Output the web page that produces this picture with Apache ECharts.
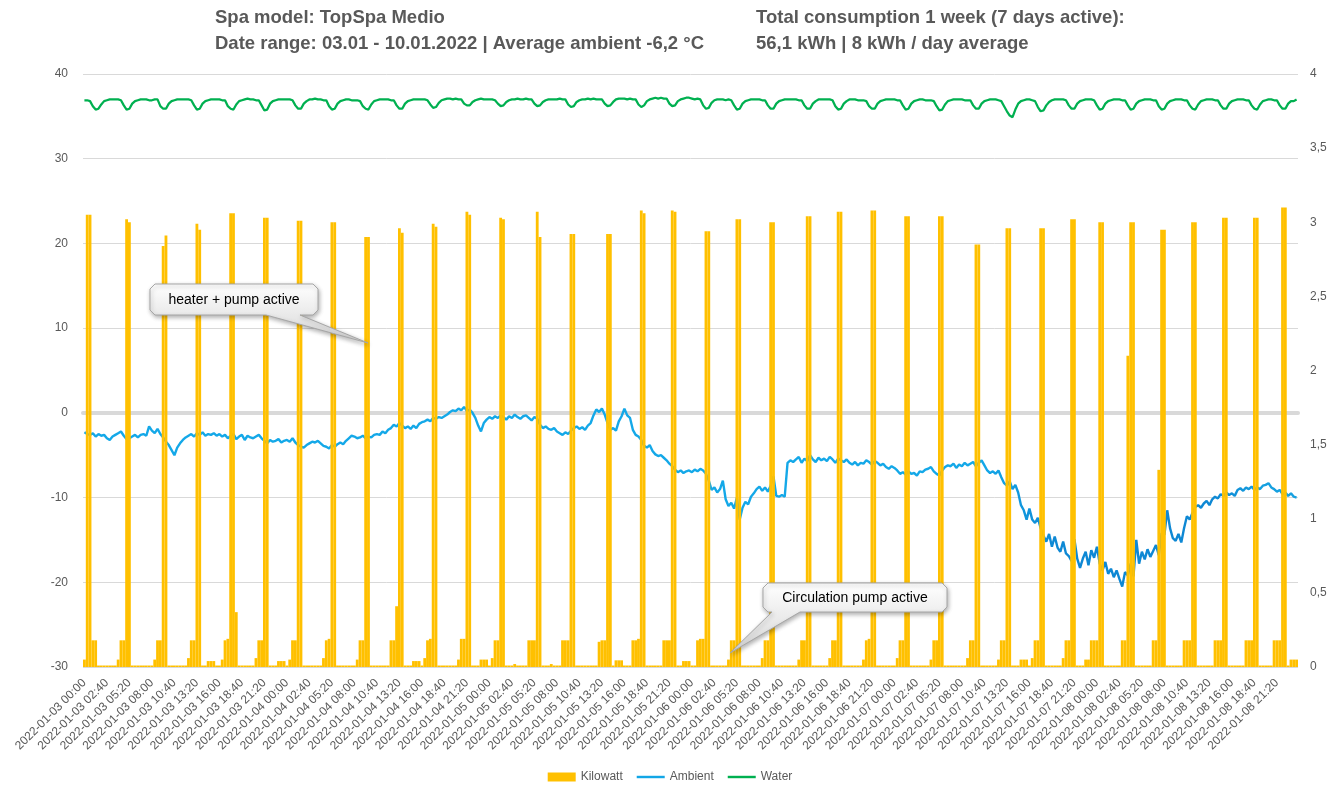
<!DOCTYPE html>
<html><head><meta charset="utf-8">
<script src="https://cdn.jsdelivr.net/npm/echarts@6/dist/echarts.min.js"></script>
<style>html,body{margin:0;padding:0;background:#fff}#c{width:1340px;height:787px}</style>
</head><body><div id="c"></div>
<script>
// 20-minute slots starting 2022-01-03 00:00 (432 slots = 6 days)
const startUTC = Date.UTC(2022, 0, 3, 0, 0);
const stepMinutes = 20;
const slotCount = 432;

const kilowatt = [
0.05,3.05,3.05,0.18,0.18,0.01,0.01,0.01,0.01,0.01,0.01,0.01,
0.05,0.18,0.18,3.02,3.0,0.01,0.01,0.01,0.01,0.01,0.01,0.01,
0.01,0.05,0.18,0.18,2.84,2.91,0.01,0.01,0.01,0.01,0.01,0.01,
0.01,0.06,0.18,0.18,2.99,2.95,0.01,0.01,0.04,0.04,0.04,0.01,
0.01,0.05,0.18,0.19,3.06,3.06,0.37,0.01,0.01,0.01,0.01,0.01,
0.01,0.06,0.18,0.18,3.03,3.03,0.01,0.01,0.01,0.04,0.04,0.04,
0.01,0.05,0.18,0.18,3.01,3.01,0.01,0.01,0.01,0.01,0.01,0.01,
0.01,0.06,0.18,0.19,3.0,3.0,0.01,0.01,0.01,0.01,0.01,0.01,
0.01,0.05,0.18,0.18,2.9,2.9,0.01,0.01,0.01,0.01,0.01,0.01,
0.01,0.18,0.18,0.41,2.96,2.93,0.01,0.01,0.01,0.04,0.04,0.04,
0.01,0.06,0.18,0.19,2.99,2.97,0.01,0.01,0.01,0.01,0.01,0.01,
0.01,0.05,0.19,0.19,3.07,3.05,0.01,0.01,0.01,0.05,0.05,0.05,
0.01,0.06,0.18,0.18,3.03,3.02,0.01,0.01,0.01,0.02,0.01,0.01,
0.01,0.01,0.18,0.18,0.18,3.07,2.9,0.01,0.01,0.01,0.02,0.01,
0.01,0.01,0.18,0.18,0.18,2.92,2.92,0.01,0.01,0.01,0.01,0.01,
0.01,0.01,0.01,0.17,0.18,0.18,2.92,2.92,0.01,0.045,0.045,0.045,
0.01,0.01,0.01,0.18,0.18,0.19,3.08,3.06,0.01,0.01,0.01,0.01,
0.01,0.01,0.18,0.18,0.18,3.08,3.07,0.01,0.01,0.04,0.04,0.04,
0.01,0.01,0.18,0.19,0.19,2.94,2.94,0.01,0.01,0.01,0.01,0.01,
0.01,0.05,0.18,0.18,3.02,3.02,0.01,0.01,0.01,0.01,0.01,0.01,
0.01,0.06,0.18,0.18,3.0,3.0,0.01,0.01,0.01,0.01,0.01,0.01,
0.01,0.01,0.05,0.18,0.18,3.04,3.04,0.01,0.01,0.01,0.01,0.01,
0.01,0.06,0.18,0.18,3.07,3.07,0.01,0.01,0.01,0.01,0.01,0.01,
0.01,0.05,0.18,0.19,3.08,3.08,0.01,0.01,0.01,0.01,0.01,0.01,
0.01,0.06,0.18,0.18,3.04,3.04,0.01,0.01,0.01,0.01,0.01,0.01,
0.01,0.05,0.18,0.18,3.04,3.04,0.01,0.01,0.01,0.01,0.01,0.01,
0.01,0.01,0.06,0.18,0.18,2.85,2.85,0.01,0.01,0.01,0.01,0.01,
0.01,0.05,0.18,0.18,2.96,2.96,0.01,0.01,0.01,0.05,0.05,0.05,
0.01,0.06,0.18,0.18,2.96,2.96,0.01,0.01,0.01,0.01,0.01,0.01,
0.06,0.18,0.18,3.02,3.02,0.01,0.01,0.01,0.05,0.05,0.18,0.18,
0.18,3.0,3.0,0.01,0.01,0.01,0.01,0.01,0.01,0.18,0.18,2.1,
3.0,3.0,0.01,0.01,0.01,0.01,0.01,0.01,0.18,0.18,1.33,2.95,
2.95,0.01,0.01,0.01,0.01,0.01,0.01,0.18,0.18,0.18,3.0,3.0,
0.01,0.01,0.01,0.01,0.01,0.01,0.18,0.18,0.18,3.03,3.03,0.01,
0.01,0.01,0.01,0.01,0.01,0.18,0.18,0.18,3.03,3.03,0.01,0.01,
0.01,0.01,0.01,0.18,0.18,0.18,3.1,3.1,0.01,0.05,0.05,0.05
];

const ambient = [
-2.3,-2.5,-2.6,-2.4,-2.8,-2.5,-2.7,-2.6,-3.0,-3.2,-2.8,-2.6,
-2.4,-2.2,-2.7,-3.1,-3.0,-2.8,-2.6,-2.9,-2.6,-2.5,-2.7,-1.6,
-2.1,-2.4,-1.9,-2.5,-2.9,-3.4,-3.8,-4.4,-5.0,-4.1,-3.6,-3.2,
-2.9,-2.7,-2.5,-2.8,-2.4,-2.6,-2.3,-2.7,-2.5,-2.6,-2.4,-2.7,
-2.5,-2.8,-2.6,-3.0,-2.7,-2.5,-3.1,-2.8,-2.6,-3.2,-2.7,-2.9,
-3.0,-2.8,-2.6,-3.0,-3.3,-3.6,-3.2,-3.4,-3.3,-3.1,-3.5,-3.3,
-3.2,-3.4,-3.0,-3.5,-3.8,-4.0,-4.1,-3.8,-3.6,-3.4,-3.5,-3.3,
-3.6,-3.9,-4.0,-4.2,-3.8,-4.0,-3.7,-3.5,-3.7,-3.3,-3.0,-2.7,
-2.8,-3.0,-2.9,-2.7,-3.0,-2.8,-2.9,-2.6,-2.5,-2.6,-2.2,-2.4,
-2.0,-1.8,-1.4,-1.6,-1.2,-1.5,-1.8,-1.6,-1.9,-1.5,-1.8,-1.3,
-1.1,-1.0,-0.8,-1.0,-0.6,-0.7,-0.5,-0.6,-0.4,-0.2,0.1,0.3,
0.2,0.5,0.3,0.7,0.2,0.4,0.0,-0.6,-1.5,-2.2,-1.2,-0.8,
-0.5,-0.7,-0.4,-0.6,-0.3,-0.5,-0.8,-0.4,-0.6,-0.2,-0.5,-0.7,
-0.4,-0.3,-0.6,-0.9,-0.5,-0.7,-1.4,-1.8,-1.6,-1.9,-2.0,-1.8,
-2.2,-2.4,-2.6,-2.3,-2.5,-2.1,-1.8,-1.6,-1.9,-1.7,-2.0,-1.5,
-1.2,-0.3,0.4,0.1,0.5,-0.2,-1.2,-2.0,-1.8,-2.1,-1.0,-0.4,
0.5,-0.3,-0.6,-2.0,-2.6,-2.8,-3.2,-3.9,-4.1,-3.8,-4.5,-4.9,
-5.1,-5.0,-5.3,-5.6,-6.0,-6.3,-6.7,-7.0,-6.8,-7.1,-6.9,-6.8,
-7.0,-6.7,-6.9,-6.6,-6.8,-7.2,-8.0,-9.1,-8.8,-9.4,-9.0,-8.0,
-10.2,-11.0,-10.6,-11.3,-10.0,-12.6,-11.2,-10.5,-10.8,-9.9,-9.5,-9.0,
-8.7,-9.2,-8.8,-9.3,-8.6,-7.5,-9.8,-9.9,-9.7,-9.9,-5.9,-5.6,
-5.8,-5.5,-5.2,-5.9,-5.4,-5.7,-5.0,-5.5,-5.8,-5.3,-5.6,-5.4,
-5.7,-5.2,-5.5,-5.9,-5.4,-5.6,-5.8,-5.5,-5.9,-6.1,-5.8,-6.2,
-5.9,-6.0,-5.6,-5.8,-6.1,-5.7,-5.9,-6.2,-6.0,-6.4,-6.6,-6.3,
-6.5,-6.8,-7.2,-7.0,-7.3,-6.9,-7.2,-7.1,-7.4,-6.9,-7.0,-6.7,
-6.6,-6.4,-6.9,-7.2,-7.4,-6.8,-6.4,-6.2,-6.3,-6.0,-6.5,-6.1,
-6.3,-5.9,-6.2,-6.0,-5.8,-6.3,-5.9,-5.6,-6.2,-6.8,-7.1,-6.9,
-7.2,-6.8,-7.6,-8.3,-8.6,-8.1,-9.0,-8.5,-9.4,-10.9,-11.5,-12.6,
-11.3,-12.6,-13.0,-12.4,-13.6,-14.5,-15.2,-14.3,-15.8,-14.6,-15.9,-16.4,
-15.2,-16.6,-16.9,-17.5,-14.9,-17.2,-18.3,-17.2,-16.4,-18.0,-16.2,-17.1,
-15.8,-17.8,-18.6,-17.6,-19.0,-18.4,-19.4,-18.6,-19.6,-20.5,-18.8,-19.2,
-17.8,-19.3,-15.0,-17.8,-16.4,-17.3,-16.1,-17.0,-16.3,-15.6,-16.8,-14.2,
-14.4,-11.5,-13.6,-14.8,-15.1,-14.3,-15.3,-13.6,-12.2,-12.6,-11.8,-11.1,
-10.9,-11.2,-10.7,-10.4,-10.9,-10.2,-9.9,-10.1,-9.6,-9.8,-9.4,-9.7,
-9.5,-9.8,-9.1,-8.9,-9.2,-8.8,-9.0,-8.7,-9.1,-8.8,-9.0,-8.6,
-8.5,-8.3,-8.8,-9.0,-9.3,-9.1,-9.6,-9.4,-9.8,-9.5,-9.9,-10.0
];

const water = [
36.9,36.9,36.8,36.2,35.8,35.9,36.4,36.8,36.9,37.0,37.0,37.0,
37.0,36.9,36.3,35.8,35.9,36.5,36.8,36.9,37.0,37.0,37.0,36.9,
36.9,37.0,37.0,36.2,35.9,35.9,36.5,36.8,36.9,37.0,37.0,37.0,
37.0,37.0,36.9,36.3,35.8,35.9,36.5,36.8,36.9,37.0,37.0,37.0,
37.0,36.9,36.9,36.2,35.9,35.8,36.4,36.8,36.9,37.0,37.1,37.0,
37.0,36.9,36.9,36.3,35.7,35.8,36.5,36.8,36.9,37.0,37.0,37.0,
37.0,37.0,36.9,36.3,35.9,35.9,36.5,36.8,37.0,37.0,37.1,37.0,
37.0,36.9,36.9,36.2,35.8,35.9,36.5,36.8,36.9,37.0,37.0,36.9,
36.9,36.9,36.8,36.2,35.9,35.8,36.4,36.8,36.9,37.0,37.0,37.0,
37.0,36.9,36.9,36.3,35.9,35.9,36.5,36.8,36.9,37.0,37.0,37.0,
37.0,37.0,36.9,36.4,36.0,36.1,36.6,36.9,37.0,37.1,37.1,37.0,
37.1,37.0,37.0,36.5,36.3,36.3,36.7,36.9,37.0,37.1,37.0,37.0,
37.0,37.0,36.9,36.5,36.2,36.3,36.7,36.9,37.0,37.0,37.1,37.0,
37.0,37.1,37.0,37.0,36.5,36.2,36.3,36.7,36.9,37.0,37.0,37.0,
37.0,37.1,37.0,37.0,36.4,36.1,36.2,36.7,36.9,37.0,37.0,37.1,
37.0,37.1,37.0,37.0,37.0,36.5,36.2,36.3,36.7,37.0,37.1,37.1,
37.1,37.0,37.1,37.0,37.0,36.4,36.1,36.3,36.8,37.0,37.1,37.2,
37.1,37.2,37.1,37.1,36.5,36.2,36.3,36.8,37.0,37.1,37.2,37.2,
37.1,37.0,37.1,37.0,36.3,35.9,36.0,36.6,36.9,37.0,37.0,37.0,
36.9,37.0,36.9,36.3,35.8,35.9,36.5,36.8,36.9,37.0,37.0,37.0,
37.0,36.9,36.9,36.3,35.9,35.9,36.5,36.8,36.9,37.0,37.0,37.0,
37.0,37.0,36.9,36.9,36.3,35.9,35.9,36.5,36.8,37.0,37.0,37.0,
37.0,37.0,36.9,36.2,35.8,35.9,36.5,36.8,37.0,37.0,37.0,36.9,
36.9,36.9,36.8,36.2,35.9,35.9,36.5,36.8,36.9,37.0,37.0,37.0,
37.0,36.9,36.9,36.3,35.8,35.9,36.5,36.8,36.9,37.0,37.0,36.9,
36.9,36.9,36.8,36.2,35.7,35.8,36.4,36.8,36.9,37.0,37.0,37.0,
37.0,36.9,36.9,36.9,36.3,35.9,35.9,36.5,36.8,36.9,37.0,37.0,
37.0,36.9,36.8,36.2,35.6,35.1,34.9,35.8,36.5,36.8,36.9,37.0,
37.0,36.9,36.8,36.1,35.6,35.7,36.3,36.7,36.9,37.0,37.0,37.0,
37.0,36.9,36.3,35.9,35.9,36.5,36.8,36.9,37.0,37.0,37.0,36.9,
36.3,35.8,35.9,36.5,36.8,36.9,37.0,37.0,37.0,36.9,36.9,36.3,
35.8,35.9,36.5,36.8,36.9,37.0,37.0,37.0,36.9,36.9,36.2,35.8,
35.9,36.5,36.8,36.9,37.0,37.0,37.0,36.9,36.9,36.3,35.9,35.8,
36.4,36.8,36.9,37.0,37.0,37.0,36.9,36.9,36.3,35.9,35.9,36.5,
36.8,36.9,37.0,37.0,37.0,36.9,36.9,36.3,35.9,35.8,36.4,36.8,
36.9,37.0,37.0,36.9,36.9,36.3,35.9,35.9,36.5,36.8,36.8,37.0
];

const leftTicks = { min: -30, max: 40, interval: 10 };
const rightTicks = { min: 0, max: 4, interval: 0.5 };
const legendNames = ['Kilowatt', 'Ambient', 'Water'];
const titleLines = ['Spa model: TopSpa Medio', 'Date range: 03.01 - 10.01.2022 | Average ambient -6,2 °C'];
const titleLinesRight = ['Total consumption 1 week (7 days active):', '56,1 kWh | 8 kWh / day average'];
const calloutTexts = ['heater + pump active', 'Circulation pump active'];

function pad(n) { return n < 10 ? '0' + n : '' + n; }
const categories = [];
for (let i = 0; i < slotCount; i++) {
  const t = new Date(startUTC + i * stepMinutes * 60000);
  categories.push(t.getUTCFullYear() + '-' + pad(t.getUTCMonth() + 1) + '-' + pad(t.getUTCDate()) + ' ' + pad(t.getUTCHours()) + ':' + pad(t.getUTCMinutes()));
}

const FONT = '"Liberation Sans", Arial, sans-serif';
const TXT = '#595959';
const chart = echarts.init(document.getElementById('c'), null, { renderer: 'canvas' });

const boxGrad = () => new echarts.graphic.LinearGradient(0, 0, 0, 1, [
  { offset: 0, color: '#ffffff' }, { offset: 1, color: '#d6d6d6' }]);
const lineIcon = 'path://M0,0L30,0L30,2.6L0,2.6Z';

const option = {
  animation: false,
  backgroundColor: '#ffffff',
  textStyle: { fontFamily: FONT },
  grid: { left: 83, right: 42, top: 74, bottom: 120, containLabel: false },
  legend: {
    top: 766, left: 'center', itemWidth: 28, itemHeight: 9, itemGap: 14,
    symbolKeepAspect: true,
    textStyle: { color: TXT, fontSize: 12, fontFamily: FONT },
    data: [
      { name: legendNames[0], icon: 'rect' },
      { name: legendNames[1], icon: lineIcon },
      { name: legendNames[2], icon: lineIcon }
    ]
  },
  xAxis: [
    {
      type: 'category', data: categories, boundaryGap: true,
      axisLine: { show: false, onZero: false }, axisTick: { show: false },
      axisLabel: { interval: 7, rotate: 45, color: TXT, fontSize: 12, fontFamily: FONT, margin: 14 },
      splitLine: { show: false }
    },
    {
      type: 'category', data: categories, boundaryGap: true, position: 'bottom',
      axisLine: { show: true, onZero: true, onZeroAxisIndex: 0, lineStyle: { color: '#d9d9d9', width: 4 } },
      axisTick: { show: false }, axisLabel: { show: false }, splitLine: { show: false }
    }
  ],
  yAxis: [
    {
      type: 'value', position: 'left', min: leftTicks.min, max: leftTicks.max, interval: leftTicks.interval,
      axisLine: { show: false }, axisTick: { show: false },
      axisLabel: { color: TXT, fontSize: 12, fontFamily: FONT, margin: 15 },
      splitLine: { show: true, lineStyle: { color: '#d9d9d9', width: 1 } }
    },
    {
      type: 'value', position: 'right', min: rightTicks.min, max: rightTicks.max, interval: rightTicks.interval,
      axisLine: { show: false }, axisTick: { show: false },
      axisLabel: { color: TXT, fontSize: 12, fontFamily: FONT, margin: 12, formatter: v => String(v).replace('.', ',') },
      splitLine: { show: false }
    }
  ],
  series: [
    {
      name: legendNames[0], type: 'bar', xAxisIndex: 0, yAxisIndex: 1, data: kilowatt,
      barCategoryGap: '0%', barGap: '0%', z: 4,
      itemStyle: { color: '#FFC000' }
    },
    {
      name: legendNames[1], type: 'line', xAxisIndex: 0, yAxisIndex: 0, data: ambient,
      symbol: 'none', z: 3,
      itemStyle: { color: '#12A6E6' },
      lineStyle: { width: 2.4, color: new echarts.graphic.LinearGradient(0, 0, 1, 0, [
        { offset: 0, color: '#14A8E8' }, { offset: 0.74, color: '#14A8E8' },
        { offset: 0.8, color: '#0E88D4' }, { offset: 0.93, color: '#0E88D4' }, { offset: 0.97, color: '#16A0E0' }, { offset: 1, color: '#16A0E0' }]) }
    },
    {
      name: legendNames[2], type: 'line', xAxisIndex: 0, yAxisIndex: 0, data: water,
      symbol: 'none', z: 3,
      itemStyle: { color: '#00B050' },
      lineStyle: { width: 2.25, color: '#00B050' }
    }
  ],
  graphic: [
    { type: 'text', left: 215, top: 8, z: 100, style: { text: titleLines[0], font: 'bold 18.5px ' + FONT, fill: TXT } },
    { type: 'text', left: 215, top: 34, z: 100, style: { text: titleLines[1], font: 'bold 18.5px ' + FONT, fill: TXT } },
    { type: 'text', left: 756, top: 8, z: 100, style: { text: titleLinesRight[0], font: 'bold 18.5px ' + FONT, fill: TXT } },
    { type: 'text', left: 756, top: 34, z: 100, style: { text: titleLinesRight[1], font: 'bold 18.5px ' + FONT, fill: TXT } },
    {
      type: 'polygon', z: 100,
      shape: { points: [[155,284],[313,284],[318,289],[318,310],[313,315],[300,315],[368,343],[266,315],[155,315],[150,310],[150,289]] },
      style: { fill: boxGrad(), stroke: '#a6a6a6', lineWidth: 1, shadowBlur: 4, shadowColor: 'rgba(0,0,0,0.3)', shadowOffsetX: 1, shadowOffsetY: 2 }
    },
    { type: 'text', x: 234, y: 300, z: 101, style: { text: calloutTexts[0], align: 'center', verticalAlign: 'middle', font: '14px ' + FONT, fill: '#000000' } },
    {
      type: 'polygon', z: 100,
      shape: { points: [[768,583],[942,583],[947,588],[947,607],[942,612],[800,612],[730,653],[772,612],[768,612],[763,607],[763,588]] },
      style: { fill: boxGrad(), stroke: '#a6a6a6', lineWidth: 1, shadowBlur: 4, shadowColor: 'rgba(0,0,0,0.3)', shadowOffsetX: 1, shadowOffsetY: 2 }
    },
    { type: 'text', x: 855, y: 598, z: 101, style: { text: calloutTexts[1], align: 'center', verticalAlign: 'middle', font: '14px ' + FONT, fill: '#000000' } }
  ]
};
chart.setOption(option);
</script>
</body></html>
